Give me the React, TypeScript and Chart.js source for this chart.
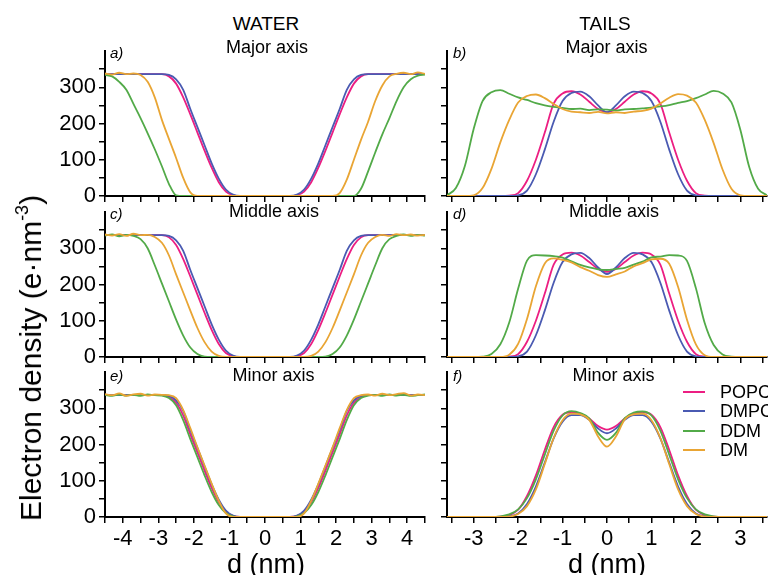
import React, { useEffect, useRef } from 'react';
import { Chart, registerables } from 'chart.js';

Chart.register(...registerables);

const FONT = "'Liberation Sans', Arial, Helvetica, sans-serif";
Chart.defaults.font.family = FONT;

// ---------------- data ----------------
const seriesNames = ['POPC', 'DMPC', 'DDM', 'DM'];
const seriesColors = ['#EC1E82', '#4A5AB2', '#52AA48', '#E9A534'];
const drawOrder = [3, 2, 1, 0];

const waterD = [-4.5, -4.3, -4.1, -3.9, -3.7, -3.5, -3.3, -3.1, -2.9, -2.7, -2.5, -2.3, -2.1, -1.9, -1.7, -1.5, -1.3, -1.1, -0.9, -0.7, -0.5, -0.3, -0.1, 0.1, 0.3, 0.5, 0.7, 0.9, 1.1, 1.3, 1.5, 1.7, 1.9, 2.1, 2.3, 2.5, 2.7, 2.9, 3.1, 3.3, 3.5, 3.7, 3.9, 4.1, 4.3, 4.5];
const tailsD = [-3.6, -3.4, -3.2, -3, -2.8, -2.6, -2.4, -2.2, -2, -1.8, -1.6, -1.4, -1.2, -1, -0.8, -0.6, -0.4, -0.2, 0, 0.2, 0.4, 0.6, 0.8, 1, 1.2, 1.4, 1.6, 1.8, 2, 2.2, 2.4, 2.6, 2.8, 3, 3.2, 3.4, 3.6];

const waterXTicks = [-4.5, -4, -3.5, -3, -2.5, -2, -1.5, -1, -0.5, 0, 0.5, 1, 1.5, 2, 2.5, 3, 3.5, 4, 4.5];
const tailsXTicks = [-3.5, -3, -2.5, -2, -1.5, -1, -0.5, 0, 0.5, 1, 1.5, 2, 2.5, 3, 3.5];
const yTickValues = [0, 50, 100, 150, 200, 250, 300, 350];
const yLabelledTicks = [0, 100, 200, 300];

// WATER – Major axis
const waterMajorPOPC = [336, 336, 336, 336, 336, 336, 336, 336, 336, 330, 310, 272, 225, 175, 125, 78, 38, 12, 2, 0, 0, 0, 0, 0, 0, 0, 0, 2, 12, 38, 78, 125, 175, 225, 272, 310, 330, 336, 336, 336, 336, 336, 336, 336, 336, 336];
const waterMajorDMPC = [336, 336, 336, 336, 336, 336, 336, 336, 336, 334, 322, 293, 240, 190, 140, 90, 48, 18, 4, 0, 0, 0, 0, 0, 0, 0, 0, 4, 18, 48, 90, 140, 190, 240, 293, 322, 334, 336, 336, 336, 336, 336, 336, 336, 336, 336];
const waterMajorDDM = [334, 330, 315, 293, 254, 215, 173, 129, 82, 33, 2, 0, 0, 0, 0, 0, 0, 0, 0, 0, 0, 0, 0, 0, 0, 0, 0, 0, 0, 0, 0, 0, 0, 0, 0, 0, 20, 68, 120, 170, 215, 262, 300, 322, 332, 335];
const waterMajorDM = [338, 335, 340, 336, 338, 334, 315, 272, 210, 157, 105, 50, 10, 0, 0, 0, 0, 0, 0, 0, 0, 0, 0, 0, 0, 0, 0, 0, 0, 0, 0, 0, 0, 8, 45, 100, 155, 205, 262, 305, 330, 337, 340, 336, 341, 337];

// WATER – Middle axis
const waterMiddlePOPC = [336, 336, 336, 336, 336, 336, 336, 336, 336, 330, 309, 270, 222, 172, 122, 75, 36, 11, 2, 0, 0, 0, 0, 0, 0, 0, 0, 2, 11, 36, 75, 122, 172, 222, 270, 309, 330, 336, 336, 336, 336, 336, 336, 336, 336, 336];
const waterMiddleDMPC = [336, 336, 336, 336, 336, 336, 336, 336, 336, 334, 322, 293, 240, 190, 140, 90, 48, 18, 4, 0, 0, 0, 0, 0, 0, 0, 0, 4, 18, 48, 90, 140, 190, 240, 293, 322, 334, 336, 336, 336, 336, 336, 336, 336, 336, 336];
const waterMiddleDDM = [335, 338, 333, 337, 334, 325, 300, 253, 203, 153, 103, 59, 26, 8, 1, 0, 0, 0, 0, 0, 0, 0, 0, 0, 0, 0, 0, 0, 0, 0, 0, 1, 8, 26, 59, 103, 153, 203, 253, 300, 325, 334, 338, 334, 337, 335];
const waterMiddleDM = [338, 335, 339, 334, 340, 336, 337, 331, 315, 280, 228, 178, 128, 80, 41, 15, 3, 0, 0, 0, 0, 0, 0, 0, 0, 0, 0, 0, 0, 3, 15, 41, 80, 128, 178, 228, 280, 315, 331, 337, 334, 339, 336, 338, 335, 337];

// WATER – Minor axis
const waterMinorPOPC = [336, 336, 336, 336, 336, 336, 336, 336, 336, 331, 315, 280, 228, 178, 128, 80, 41, 15, 3, 0, 0, 0, 0, 0, 0, 0, 0, 3, 15, 41, 80, 128, 178, 228, 280, 315, 331, 336, 336, 336, 336, 336, 336, 336, 336, 336];
const waterMinorDMPC = [336, 336, 336, 336, 336, 336, 336, 336, 336, 334, 322, 293, 240, 190, 140, 90, 48, 18, 4, 0, 0, 0, 0, 0, 0, 0, 0, 4, 18, 48, 90, 140, 190, 240, 293, 322, 334, 336, 336, 336, 336, 336, 336, 336, 336, 336];
const waterMinorDDM = [337, 334, 338, 335, 337, 334, 338, 336, 335, 328, 308, 267, 215, 165, 115, 69, 33, 11, 2, 0, 0, 0, 0, 0, 0, 0, 0, 2, 11, 33, 69, 115, 165, 215, 267, 308, 328, 335, 337, 334, 338, 335, 337, 334, 336, 338];
const waterMinorDM = [339, 336, 341, 334, 338, 340, 335, 338, 337, 336, 328, 295, 245, 192, 142, 92, 45, 10, 0, 0, 0, 0, 0, 0, 0, 0, 0, 0, 10, 45, 92, 142, 192, 245, 295, 328, 336, 338, 335, 340, 336, 339, 342, 335, 338, 336];

// TAILS – Major axis
const tailsMajorPOPC = [0, 0, 0, 0, 0, 0, 0, 1, 8, 42, 100, 175, 255, 283, 289, 280, 260, 240, 231, 240, 260, 280, 289, 283, 255, 175, 100, 42, 8, 1, 0, 0, 0, 0, 0, 0, 0];
const tailsMajorDMPC = [0, 0, 0, 0, 0, 0, 0, 0, 2, 15, 60, 128, 205, 262, 284, 288, 275, 250, 231, 250, 275, 288, 284, 262, 205, 128, 60, 15, 2, 0, 0, 0, 0, 0, 0, 0, 0];
const tailsMajorDDM = [2, 22, 82, 185, 262, 286, 292, 282, 272, 265, 256, 250, 246, 243, 240, 241, 237, 239, 238, 236, 239, 240, 242, 244, 247, 251, 257, 262, 270, 280, 290, 283, 258, 183, 80, 20, 2];
const tailsMajorDM = [0, 0, 0, 2, 22, 75, 148, 210, 258, 276, 280, 270, 254, 240, 233, 231, 229, 232, 228, 231, 229, 233, 235, 241, 255, 271, 281, 277, 258, 210, 146, 73, 20, 2, 0, 0, 0];

// TAILS – Middle axis
const tailsMiddlePOPC = [0, 0, 0, 0, 0, 0, 0, 1, 8, 42, 100, 175, 255, 283, 288, 280, 262, 243, 235, 243, 262, 280, 288, 283, 255, 175, 100, 42, 8, 1, 0, 0, 0, 0, 0, 0, 0];
const tailsMiddleDMPC = [0, 0, 0, 0, 0, 0, 0, 0, 2, 15, 60, 128, 205, 262, 283, 287, 273, 247, 229, 247, 273, 287, 283, 262, 205, 128, 60, 15, 2, 0, 0, 0, 0, 0, 0, 0, 0];
const tailsMiddleDDM = [0, 0, 0, 0, 1, 8, 35, 95, 188, 266, 281, 280, 278, 274, 264, 254, 247, 242, 240, 243, 246, 255, 263, 275, 277, 281, 280, 265, 190, 93, 33, 7, 1, 0, 0, 0, 0];
const tailsMiddleDM = [0, 0, 0, 0, 0, 0, 0, 6, 36, 105, 195, 258, 272, 268, 261, 248, 238, 226, 221, 228, 236, 250, 259, 269, 271, 257, 193, 103, 35, 5, 0, 0, 0, 0, 0, 0, 0];

// TAILS – Minor axis
const tailsMinorPOPC = [0, 0, 0, 0, 0, 0, 1, 5, 20, 58, 115, 185, 248, 282, 289, 285, 272, 251, 241, 251, 272, 285, 289, 282, 248, 185, 115, 58, 20, 5, 1, 0, 0, 0, 0, 0, 0];
const tailsMinorDMPC = [0, 0, 0, 0, 0, 0, 0, 2, 10, 36, 84, 150, 217, 263, 281, 281, 268, 244, 231, 244, 268, 281, 281, 263, 217, 150, 84, 36, 10, 2, 0, 0, 0, 0, 0, 0, 0];
const tailsMinorDDM = [0, 0, 0, 0, 0, 0, 2, 7, 21, 52, 104, 172, 238, 280, 292, 287, 272, 232, 213, 232, 273, 288, 291, 280, 238, 172, 104, 52, 21, 7, 2, 0, 0, 0, 0, 0, 0];
const tailsMinorDM = [0, 0, 0, 0, 0, 0, 0, 1, 8, 30, 76, 146, 218, 267, 285, 283, 268, 222, 194, 222, 269, 283, 285, 267, 218, 146, 76, 30, 8, 1, 0, 0, 0, 0, 0, 0, 0];

// ---------------- layout ----------------
type PanelSpec = {
  col: number;
  row: number;
  xs: number[];
  xTicks: number[];
  xMin: number;
  xMax: number;
  series: number[][];
};

const panels: PanelSpec[] = [
  { col: 0, row: 0, xs: waterD, xTicks: waterXTicks, xMin: -4.5, xMax: 4.5, series: [waterMajorPOPC, waterMajorDMPC, waterMajorDDM, waterMajorDM] },
  { col: 1, row: 0, xs: tailsD, xTicks: tailsXTicks, xMin: -3.6, xMax: 3.6, series: [tailsMajorPOPC, tailsMajorDMPC, tailsMajorDDM, tailsMajorDM] },
  { col: 0, row: 1, xs: waterD, xTicks: waterXTicks, xMin: -4.5, xMax: 4.5, series: [waterMiddlePOPC, waterMiddleDMPC, waterMiddleDDM, waterMiddleDM] },
  { col: 1, row: 1, xs: tailsD, xTicks: tailsXTicks, xMin: -3.6, xMax: 3.6, series: [tailsMiddlePOPC, tailsMiddleDMPC, tailsMiddleDDM, tailsMiddleDM] },
  { col: 0, row: 2, xs: waterD, xTicks: waterXTicks, xMin: -4.5, xMax: 4.5, series: [waterMinorPOPC, waterMinorDMPC, waterMinorDDM, waterMinorDM] },
  { col: 1, row: 2, xs: tailsD, xTicks: tailsXTicks, xMin: -3.6, xMax: 3.6, series: [tailsMinorPOPC, tailsMinorDMPC, tailsMinorDDM, tailsMinorDM] },
];

const AREA_LEFT = [105, 447];
const AREA_TOP = [51, 212, 372];
const AREA_W = 320;
const AREA_H = 145;
const PAD_T = 12;
const PAD_R = 10;

function geometry(spec: PanelSpec) {
  const yw = spec.col === 0 ? 60 : 14;
  const xb = spec.row === 2 ? 40 : 12;
  return {
    yw,
    xb,
    left: AREA_LEFT[spec.col] - yw,
    top: AREA_TOP[spec.row] - PAD_T,
    w: yw + AREA_W + PAD_R,
    h: PAD_T + AREA_H + xb,
  };
}

function Panel({ spec }: { spec: PanelSpec }) {
  const ref = useRef<HTMLCanvasElement | null>(null);
  const g = geometry(spec);

  useEffect(() => {
    const canvas = ref.current;
    if (!canvas) return;
    const showX = spec.row === 2;
    const showY = spec.col === 0;
    const chart = new Chart(canvas, {
      type: 'line',
      data: {
        datasets: spec.series.map((ys, i) => ({
          label: seriesNames[i],
          data: spec.xs.map((x, j) => ({ x, y: ys[j] })),
          borderColor: seriesColors[i],
          backgroundColor: seriesColors[i],
          borderWidth: 1.8,
          pointRadius: 0,
          fill: false,
          cubicInterpolationMode: 'monotone' as const,
          order: drawOrder[i],
        })),
      },
      options: {
        animation: false,
        responsive: false,
        maintainAspectRatio: false,
        devicePixelRatio: 1,
        layout: { padding: { top: PAD_T, right: PAD_R, left: 0, bottom: 0 } },
        plugins: { legend: { display: false }, tooltip: { enabled: false }, title: { display: false } },
        events: [],
        scales: {
          x: {
            type: 'linear',
            min: spec.xMin,
            max: spec.xMax,
            afterBuildTicks: (s: any) => {
              s.ticks = spec.xTicks.map((v) => ({ value: v }));
            },
            afterFit: (s: any) => {
              s.height = g.xb;
              s.paddingLeft = 0;
              s.paddingRight = 0;
              s.paddingTop = 0;
              s.paddingBottom = 0;
            },
            grid: { display: true, drawOnChartArea: false, drawTicks: true, tickLength: 6, color: '#000', lineWidth: 1.5 },
            border: { display: true, color: '#000', width: 2 },
            ticks: {
              display: showX,
              autoSkip: false,
              maxRotation: 0,
              minRotation: 0,
              padding: 3,
              color: '#000',
              font: { size: 22, family: FONT },
              callback: (v: any) => (Number.isInteger(Number(v)) ? String(v) : ''),
            },
          },
          y: {
            type: 'linear',
            min: 0,
            max: 400,
            afterBuildTicks: (s: any) => {
              s.ticks = yTickValues.map((v) => ({ value: v }));
            },
            afterFit: (s: any) => {
              s.width = g.yw;
              s.paddingLeft = 0;
              s.paddingRight = 0;
              s.paddingTop = 0;
              s.paddingBottom = 0;
            },
            grid: { display: true, drawOnChartArea: false, drawTicks: true, tickLength: 6, color: '#000', lineWidth: 1.5 },
            border: { display: true, color: '#000', width: 2 },
            ticks: {
              display: showY,
              autoSkip: false,
              padding: 3,
              color: '#000',
              font: { size: 22, family: FONT },
              callback: (v: any) => (yLabelledTicks.includes(Number(v)) ? String(v) : ''),
            },
          },
        },
      } as any,
    });
    return () => chart.destroy();
  }, []);

  return (
    <canvas
      ref={ref}
      width={g.w}
      height={g.h}
      style={{ position: 'absolute', left: g.left, top: g.top, width: g.w, height: g.h }}
    />
  );
}

function Txt({ x, base, size, italic = false, center = true, children }: any) {
  return (
    <div
      style={{
        position: 'absolute',
        left: x,
        top: base - 0.8465 * size,
        fontSize: size,
        lineHeight: 1,
        fontStyle: italic ? 'italic' : 'normal',
        whiteSpace: 'nowrap',
        transform: center ? 'translateX(-50%)' : undefined,
        color: '#000',
      }}
    >
      {children}
    </div>
  );
}

const legendY = [391.5, 411, 430.5, 450];

export default function App() {
  return (
    <div
      style={{
        position: 'fixed',
        left: 0,
        top: 0,
        width: 768,
        height: 575,
        overflow: 'hidden',
        background: '#fff',
        fontFamily: FONT,
      }}
    >
      {panels.map((p, i) => (
        <Panel key={i} spec={p} />
      ))}

      <Txt x={266} base={30} size={19}>WATER</Txt>
      <Txt x={605} base={30} size={19}>TAILS</Txt>
      <Txt x={267} base={53} size={18}>Major axis</Txt>
      <Txt x={606.5} base={53} size={18}>Major axis</Txt>
      <Txt x={274} base={217} size={18}>Middle axis</Txt>
      <Txt x={614} base={217} size={18}>Middle axis</Txt>
      <Txt x={273.5} base={381} size={18}>Minor axis</Txt>
      <Txt x={613.5} base={381} size={18}>Minor axis</Txt>

      <Txt x={110} base={58} size={15} italic center={false}>a)</Txt>
      <Txt x={453} base={58} size={15} italic center={false}>b)</Txt>
      <Txt x={110} base={218.5} size={15} italic center={false}>c)</Txt>
      <Txt x={453} base={218.5} size={15} italic center={false}>d)</Txt>
      <Txt x={110} base={380.5} size={15} italic center={false}>e)</Txt>
      <Txt x={453} base={380.5} size={15} italic center={false}>f)</Txt>

      <Txt x={266} base={574} size={27}>d (nm)</Txt>
      <Txt x={607} base={574} size={27}>d (nm)</Txt>

      <div
        style={{
          position: 'absolute',
          left: 30.6,
          top: 358,
          transform: 'translate(-50%, -50%) rotate(-90deg)',
          fontSize: 30,
          lineHeight: 1,
          whiteSpace: 'nowrap',
          color: '#000',
        }}
      >
        Electron density (e·nm
        <span style={{ fontSize: '0.6em', position: 'relative', top: '-0.75em' }}>-3</span>)
      </div>

      {seriesNames.map((name, i) => (
        <React.Fragment key={name}>
          <div
            style={{
              position: 'absolute',
              left: 683,
              top: legendY[i] - 1,
              width: 22,
              height: 2,
              background: seriesColors[i],
            }}
          />
          <Txt x={720} base={legendY[i] + 6.4} size={18} center={false}>
            {name}
          </Txt>
        </React.Fragment>
      ))}
    </div>
  );
}
